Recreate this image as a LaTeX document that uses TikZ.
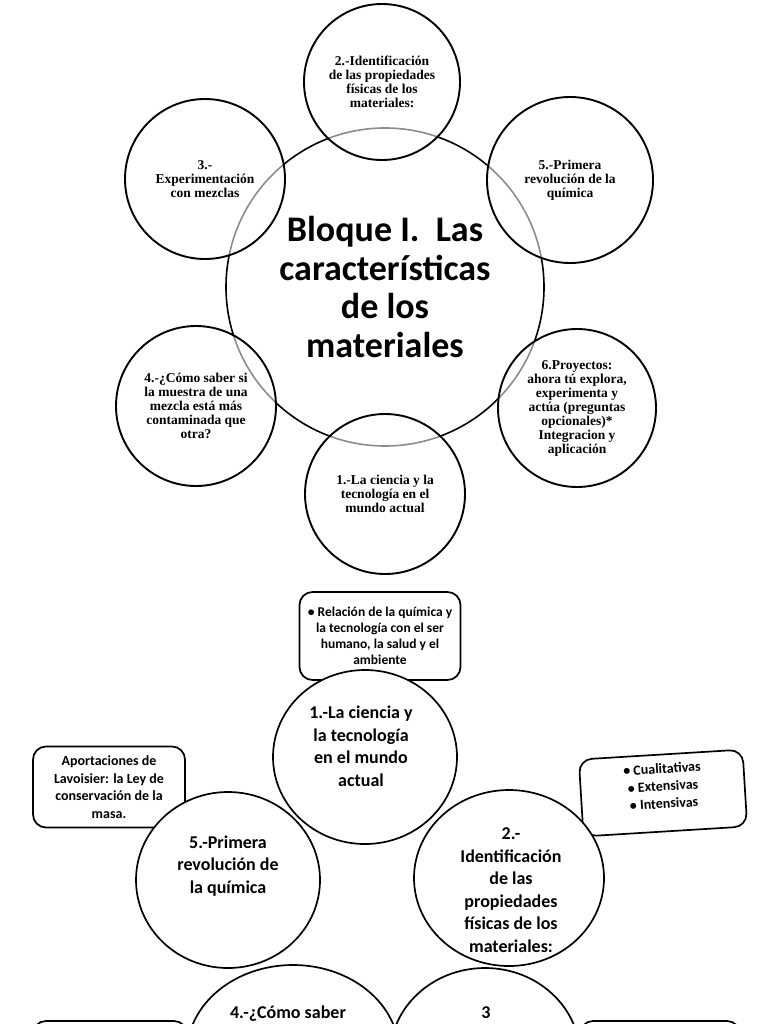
\documentclass[tikz,border=0pt]{standalone}
\usepackage{fontspec}
\setmainfont{Carlito}
\newfontfamily\romanb{Liberation Serif}
\usetikzlibrary{positioning}
\usetikzlibrary{shapes.geometric,calc}
\newcommand*{\FuenteBurbuja}{\romanb\bfseries\fontsize{13.5}{14}\selectfont}
\newcommand*{\FuenteOvalo}{\bfseries\fontsize{18}{22.5}\selectfont}
\newcommand*{\FuenteCaja}{\bfseries\fontsize{14}{17.5}\selectfont}

\tikzset{
  tema/.style={circle, draw, line width=1.6pt, fill=white, inner sep=0pt, align=center,
    font=\bfseries\fontsize{36}{38.5}\selectfont},
  burbuja/.style={circle, draw, line width=1.9pt, fill=white, fill opacity=0.55,
    text opacity=1, inner sep=0pt, align=center, font=\FuenteBurbuja},
  ovalo/.style={ellipse, draw, line width=1.7pt, fill=white, inner sep=0pt},
  ovalotxt/.style={align=center, inner sep=0pt, font=\FuenteOvalo},
  caja/.style={draw, line width=1.7pt, rounded corners=13pt, fill=white,
    inner sep=0pt, align=center, font=\FuenteCaja}
}

\begin{document}
\begin{tikzpicture}[x=1pt,y=-1pt]
\useasboundingbox (0,0) rectangle (768,1024);
\fill[white] (0,0) rectangle (768,1024);
\clip (0,0) rectangle (768,1024);

% Bloque I, big circle
\node[tema, minimum size=318pt] (bloque) at (385,287)
  {Bloque I.\ \ Las\\características\\de los\\materiales};

% circles round the block
\node[burbuja, minimum size=156pt] (ident) at (382,82)
  {2.-Identificación\\de las propiedades\\físicas de los\\materiales:};
\node[burbuja, minimum size=160pt] (mezclas) at (205,179)
  {3.-\\Experimentación\\con mezclas};
\node[burbuja, minimum size=166pt] (revol) at (570,180)
  {5.-Primera\\revolución de la\\química};
\node[burbuja, minimum size=160pt] (muestra) at (196,406)
  {4.-¿Cómo saber si\\la muestra de una\\mezcla está más\\contaminada que\\otra?};
\node[burbuja, minimum size=158pt] (proyectos) at (577,408)
  {6.Proyectos:\\ahora tú explora,\\experimenta y\\actúa (preguntas\\opcionales)*\\Integracion y\\aplicación};
\node[burbuja, minimum size=160pt] (ciencia) at (385,494)
  {1.-La ciencia y la\\tecnología en el\\mundo actual};

% second map: boxes
\node[caja, minimum width=161pt, minimum height=88pt,
    font=\bfseries\fontsize{13.5}{15.8}\selectfont
] (relacion) at (380,636)
  {• Relación de la química y\\la tecnología con el ser\\humano, la salud y el\\ambiente};
\node[caja, minimum width=152pt, minimum height=81pt] (aportes) at (109,787)
  {Aportaciones de\\Lavoisier: la Ley de\\conservación de la\\masa.};
\node[caja, minimum width=164pt, minimum height=77pt, rotate=3.5] (tipos) at (663,793) {};
\node[caja, draw=none, fill=none, rotate=3.5] (tipostxt) at ([yshift=7pt]tipos.center)
  {• Cualitativas\\• Extensivas\\• Intensivas};
\node[caja, minimum width=154pt, minimum height=80pt] (cajaizq) at (110,1061) {};
\node[caja, minimum width=160pt, minimum height=80pt] (cajader) at (660,1061) {};

% second map: ovals
\node[ovalo, minimum width=184pt, minimum height=176pt] (revolB) at (228,880) {};
\node[ovalo, minimum width=190pt, minimum height=176pt] (identB) at (509,878) {};
\node[ovalo, minimum width=212pt, minimum height=176pt] (muestraB) at (293,1053) {};
\node[ovalo, minimum width=190pt, minimum height=176pt] (tresB) at (485,1056) {};
\node[ovalo, minimum width=184pt, minimum height=174pt] (cienciaB) at (365,757) {};

\node[ovalotxt] (cienciaBtxt) at ([xshift=-4pt,yshift=11pt]cienciaB.center)
  {1.-La ciencia y\\la tecnología\\en el mundo\\actual};
\node[ovalotxt] (revolBtxt) at ([yshift=14pt]revolB.center)
  {5.-Primera\\revolución de\\la química};
\node[ovalotxt] (identBtxt) at ([xshift=2pt,yshift=-12pt]identB.center)
  {2.-\\Identificación\\de las\\propiedades\\físicas de los\\materiales:};
\node[ovalotxt, font=\bfseries\fontsize{18}{20}\selectfont] (muestraBtxt)
  at ([xshift=-5pt,yshift=31pt]muestraB.center)
  {4.-¿Cómo saber\\si la muestra de};
\node[ovalotxt] (tresBtxt) at ([xshift=1pt,yshift=43pt]tresB.center) {3};
\end{tikzpicture}
\end{document}
